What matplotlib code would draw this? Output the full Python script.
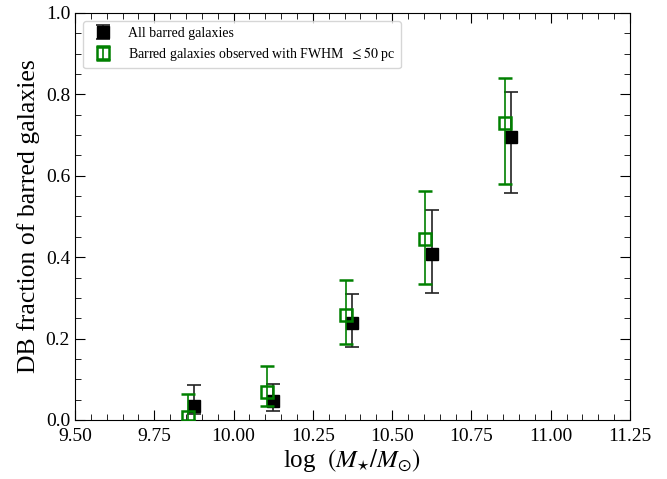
import matplotlib
matplotlib.use('Agg')
import matplotlib.pyplot as plt
from matplotlib.ticker import MultipleLocator

plt.rcParams['font.family'] = ['Liberation Serif', 'DejaVu Serif']
plt.rcParams['mathtext.fontset'] = 'stix'

# all barred galaxies
mass_all = [9.875, 10.125, 10.375, 10.625, 10.875]
frac_all = [0.034, 0.047, 0.239, 0.409, 0.695]
err_up_all = [0.086, 0.089, 0.310, 0.515, 0.805]
err_lo_all = [0.015, 0.022, 0.180, 0.313, 0.557]

# barred galaxies observed with FWHM <= 50 pc
mass_hr = [9.855, 10.105, 10.355, 10.605, 10.855]
frac_hr = [0.007, 0.069, 0.259, 0.445, 0.729]
err_up_hr = [0.064, 0.133, 0.345, 0.562, 0.840]
err_lo_hr = [0.0, 0.034, 0.187, 0.335, 0.579]

fig = plt.figure(figsize=(6.67, 4.79), dpi=100)
ax = fig.add_axes([0.1124, 0.1232, 0.8321, 0.8497])

yerr_all = [[f - lo for f, lo in zip(frac_all, err_lo_all)],
            [hi - f for f, hi in zip(frac_all, err_up_all)]]
yerr_hr = [[f - lo for f, lo in zip(frac_hr, err_lo_hr)],
           [hi - f for f, hi in zip(frac_hr, err_up_hr)]]

ax.errorbar(mass_all, frac_all, yerr=yerr_all, fmt='s', color='black',
            ecolor='#222222', markersize=9, capsize=5, elinewidth=1.2,
            capthick=1.2, label='All barred galaxies', zorder=3)
ax.errorbar(mass_hr, frac_hr, yerr=yerr_hr, fmt='s', color='green',
            mfc='none', mec='green', mew=1.8, markersize=9, capsize=5,
            elinewidth=1.2, capthick=1.2,
            label=r'Barred galaxies observed with FWHM $\ \leq 50$ pc', zorder=4)

ax.set_xlim(9.5, 11.25)
ax.set_ylim(0, 1.0)
ax.xaxis.set_major_locator(MultipleLocator(0.25))
ax.xaxis.set_minor_locator(MultipleLocator(0.05))
ax.yaxis.set_major_locator(MultipleLocator(0.2))
ax.yaxis.set_minor_locator(MultipleLocator(0.05))
ax.tick_params(which='both', direction='in', top=True, right=True, labelsize=14)
ax.tick_params(which='major', length=7)
ax.tick_params(which='minor', length=4)
ax.tick_params(axis='x', which='major', pad=6)

ax.set_xlabel(r'log $\ (M_{\star}/M_{\odot})$', fontsize=18, labelpad=1)
ax.set_ylabel('DB fraction of barred galaxies', fontsize=18.5)

ax.legend(loc='upper left', fontsize=10, frameon=True, borderaxespad=0.6,
          labelspacing=0.35)

fig.savefig('out.png', dpi=100)
